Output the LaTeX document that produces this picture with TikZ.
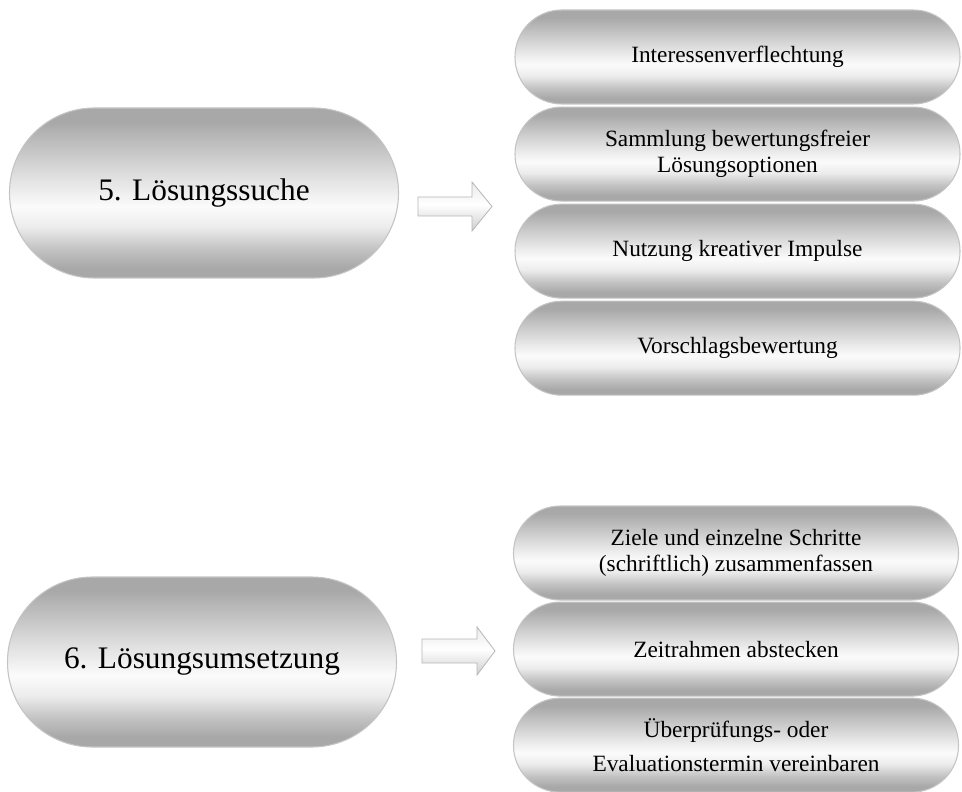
\documentclass[tikz,border=0pt]{standalone}
\usepackage{fontspec}
\setmainfont{Liberation Serif}
\usepackage{tikz}
\usetikzlibrary{positioning}
\definecolor{PillDark}{RGB}{168,168,168}
\definecolor{PillMid}{RGB}{206,206,206}
\definecolor{PillPale}{RGB}{236,236,236}
\definecolor{PillLight}{RGB}{251,251,251}
\definecolor{PillEdge}{RGB}{196,196,196}
\definecolor{ArrowTop}{RGB}{234,234,234}
\definecolor{ArrowLow}{RGB}{206,206,206}
\definecolor{ArrowEdge}{RGB}{182,182,182}
\pgfdeclareverticalshading{pillshade}{100bp}{color(0bp)=(PillDark); color(28bp)=(PillDark);
  color(33.5bp)=(PillMid!70!PillDark); color(40bp)=(PillPale); color(46bp)=(PillLight);
  color(51bp)=(PillPale); color(60bp)=(PillMid); color(71bp)=(PillDark); color(100bp)=(PillDark)}
\pgfdeclareverticalshading{arrowshade}{100bp}{color(0bp)=(ArrowLow); color(25bp)=(ArrowLow);
  color(52bp)=(white); color(75bp)=(ArrowTop); color(100bp)=(ArrowTop)}
\tikzset{
  phase/.style={draw=PillEdge,line width=0.8pt,shade,shading=pillshade,inner sep=0pt,
    minimum width=291.75pt,minimum height=127.5pt,rounded corners=63.5pt,
    font=\fontsize{23.5}{28}\selectfont},
  item/.style={draw=PillEdge,line width=0.8pt,shade,shading=pillshade,inner sep=0pt,
    minimum width=333.75pt,minimum height=70.5pt,rounded corners=35pt,align=center,
    font=\fontsize{17.5}{19.5}\selectfont},
  blockarrow/.style={draw=ArrowEdge,line width=0.6pt,shade,shading=arrowshade,line join=miter},
}

\begin{document}
\begin{tikzpicture}[x=0.75pt,y=-0.75pt]
\useasboundingbox (0,0) rectangle (962,791);
\coordinate (p5) at (204,193);
\coordinate (p6) at (202,662);
\coordinate (t5) at (418,206.5);
\coordinate (t6) at (422,651);
\coordinate (f5) at (737.5,57);
\coordinate (f6) at (736,553);

\node[phase] (s5) at (p5) {5. Lösungssuche};
\node[phase] (s6) at (p6) {6. Lösungsumsetzung};

\node[item] (a1) at (f5) {Interessenverflechtung};
\node[item,below=1.5pt of a1] (a2) {Sammlung bewertungsfreier\\Lösungsoptionen};
\node[item,below=1.5pt of a2] (a3) {Nutzung kreativer Impulse};
\node[item,below=1.5pt of a3] (a4) {Vorschlagsbewertung};

\node[item] (b1) at (f6) {Ziele und einzelne Schritte\\(schriftlich) zusammenfassen};
\node[item,below=0.75pt of b1] (b2) {Zeitrahmen abstecken};
\node[item,below=0.75pt of b2] (b3) {Überprüfungs- oder\\[6pt]Evaluationstermin vereinbaren};

\shade[blockarrow] (t5) ++(0,-9.5) -- ++(54,0) -- ++(0,-15) -- ++(20,24.5)
  -- ++(-20,24.5) -- ++(0,-15) -- ++(-54,0) -- cycle;
\shade[blockarrow] (t6) ++(0,-12) -- ++(55,0) -- ++(0,-12) -- ++(18,24)
  -- ++(-18,24) -- ++(0,-12) -- ++(-55,0) -- cycle;
\end{tikzpicture}
\end{document}
